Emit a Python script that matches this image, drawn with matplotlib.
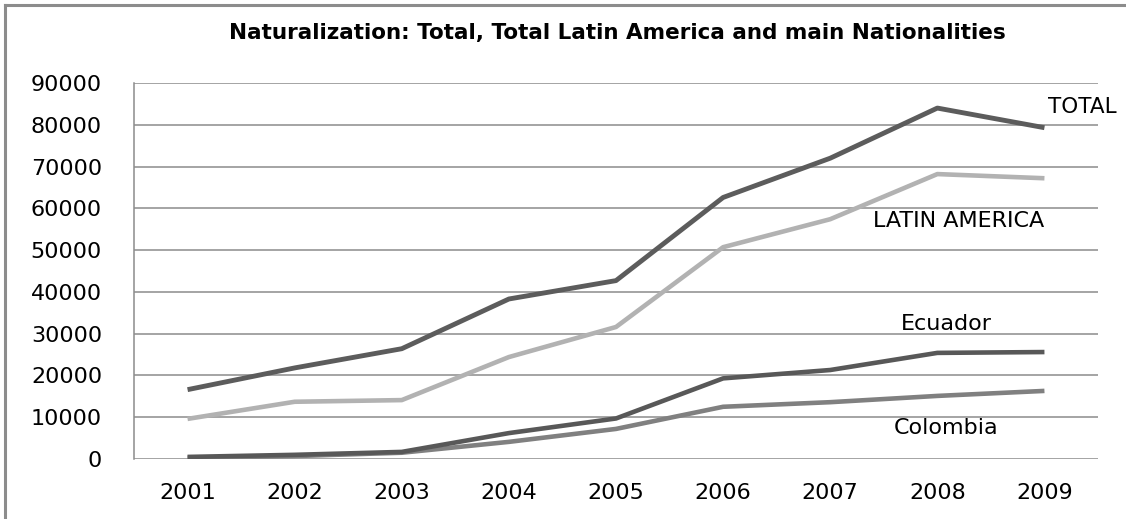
import matplotlib.pyplot as plt
from matplotlib.lines import Line2D

# ===========================
# DATA
# ===========================
years = ['2001', '2002', '2003', '2004', '2005', '2006', '2007', '2008', '2009']
total = [16600, 21800, 26400, 38300, 42700, 62600, 72000, 84000, 79300]
latin_america = [9600, 13700, 14100, 24400, 31600, 50700, 57400, 68200, 67200]
ecuador = [500, 1000, 1700, 6200, 9700, 19300, 21300, 25400, 25600]
colombia = [300, 700, 1500, 4100, 7200, 12500, 13600, 15100, 16300]
y_ticks = [0, 10000, 20000, 30000, 40000, 50000, 60000, 70000, 80000, 90000]

# ===========================
# PLOT
# ===========================
fig = plt.figure(figsize=(11.26, 5.19), dpi=100)
ax = fig.add_axes([134 / 1126, 60 / 519, (1098 - 134) / 1126, (459 - 83) / 519])

x = range(len(years))
ax.plot(x, colombia, color='#808080', lw=3.3, solid_capstyle='butt', zorder=3)
ax.plot(x, ecuador, color='#585858', lw=3.3, solid_capstyle='butt', zorder=4)
ax.plot(x, latin_america, color='#b2b2b2', lw=3.3, solid_capstyle='butt', zorder=3)
ax.plot(x, total, color='#5c5c5c', lw=3.5, solid_capstyle='butt', zorder=4)

ax.set_xlim(-0.5, len(years) - 0.5)
ax.set_ylim(0, 90000)
ax.set_yticks(y_ticks)
ax.set_yticklabels([str(v) for v in y_ticks])
ax.set_xticks(list(x))
ax.set_xticklabels(years)
ax.tick_params(axis='both', length=0, labelsize=16, colors='black')
ax.tick_params(axis='y', pad=23)
ax.tick_params(axis='x', pad=17)

ax.grid(axis='y', color='#8c8c8c', lw=1.1)
ax.set_axisbelow(True)
for side in ['top', 'right', 'bottom']:
    ax.spines[side].set_visible(False)
ax.spines['left'].set_color('#8c8c8c')
ax.spines['left'].set_linewidth(1.1)

# series labels
ax.text(8.35, 84300, 'TOTAL', fontsize=15.5, ha='center', va='center', clip_on=False)
ax.text(7.2, 57000, 'LATIN AMERICA', fontsize=16, ha='center', va='center')
ax.text(7.08, 32300, 'Ecuador', fontsize=16, ha='center', va='center')
ax.text(7.08, 7400, 'Colombia', fontsize=16, ha='center', va='center')

fig.text(617 / 1126, 1 - 33 / 519,
         'Naturalization: Total, Total Latin America and main Nationalities',
         fontsize=15.5, fontweight='bold', ha='center', va='center')

# outer frame (top and left edges only)
fig.add_artist(Line2D([5 / 1126, 1], [1 - 5 / 519, 1 - 5 / 519],
                      color='#8c8c8c', lw=2.2, transform=fig.transFigure))
fig.add_artist(Line2D([5 / 1126, 5 / 1126], [0, 1 - 5 / 519],
                      color='#8c8c8c', lw=2.2, transform=fig.transFigure))

fig.savefig('out.png', dpi=100)
